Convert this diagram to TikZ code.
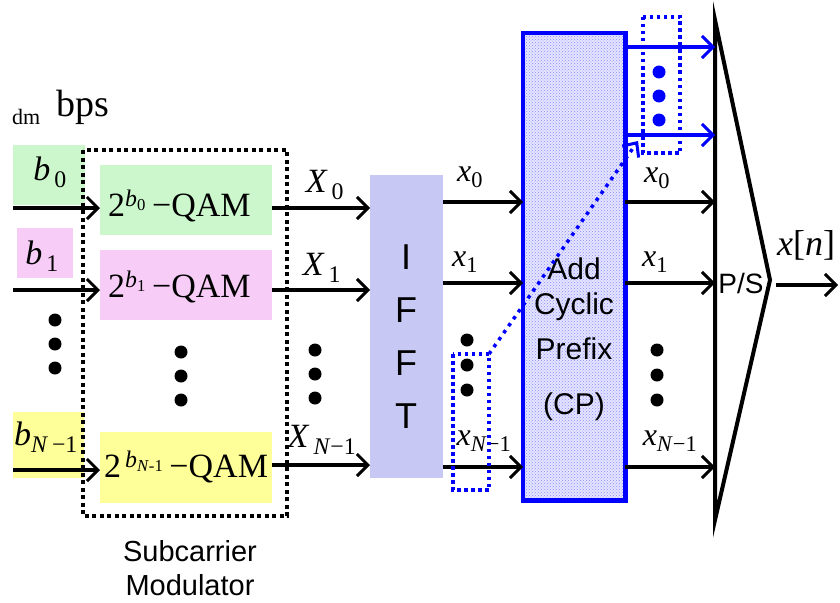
\documentclass[tikz,border=0pt]{standalone}
\usepackage{fontspec}
\setmainfont{Liberation Serif}
\setsansfont{Liberation Sans}
\usetikzlibrary{arrows.meta,patterns}
\definecolor{bgreen}{HTML}{CCF7CC}
\definecolor{bpink}{HTML}{F7CCF7}
\definecolor{byellow}{HTML}{FFFF99}
\definecolor{blav}{HTML}{C8C8F5}
\newcommand\lbl[2]{\textit{#1}\textsubscript{#2}}
\begin{document}
\begin{tikzpicture}[x=1pt,y=-1pt,
  arr/.style={line width=3.5pt,-{Straight Barb[length=11pt,width=22pt,line width=3pt]}},
  barr/.style={arr,blue},
  cbox/.style={draw=none,inner sep=0pt,anchor=north west},
  lab/.style={inner sep=0pt,font=\fontsize{34}{34}\selectfont},
  slab/.style={inner sep=0pt,font=\fontsize{32}{32}\selectfont},
  qam/.style={inner sep=0pt,font=\fontsize{34}{34}\selectfont},
  sans/.style={inner sep=0pt,font=\sffamily\fontsize{30}{30}\selectfont},
  dot/.style={circle,fill=black,inner sep=0pt,minimum size=13pt},
  bdot/.style={circle,fill=blue,inner sep=0pt,minimum size=13pt},
  bdotted/.style={draw=blue,line width=3.5pt,dash pattern=on 3.5pt off 3.5pt},
  kdotted/.style={draw=black,line width=4pt,dash pattern=on 4pt off 3.5pt}]
\useasboundingbox (0,0) rectangle (840,602);

% header
\node[inner sep=0pt,anchor=base west,font=\fontsize{22}{22}\selectfont] (dm) at (12,124) {dm};
\node[inner sep=0pt,anchor=base west,font=\fontsize{38}{38}\selectfont] (bps) at (56,116) {bps};

% input boxes
\fill[bgreen] (13,145) rectangle (85,205);
\fill[bpink] (17,228) rectangle (73,278);
\fill[byellow] (13,412) rectangle (84,478);
\node[lab] (b0) at (50,172) {\lbl{b}{\,0}};
\node[lab] (b1) at (42,256) {\lbl{b}{\,1}};
\node[lab] (bN) at (46,437) {\textit{b}\textsubscript{\textit{N}\,−1}};

% QAM boxes
\node[cbox,fill=bgreen,minimum width=172pt,minimum height=70pt] (q0) at (100,165) {};
\node[cbox,fill=bpink,minimum width=172pt,minimum height=70pt] (q1) at (100,250) {};
\node[cbox,fill=byellow,minimum width=172pt,minimum height=71pt] (qN) at (100,432) {};
\node[qam,anchor=west] (q0t) at (108,206) {2\textsuperscript{\textit{b}\textsubscript{0}}\,−QAM};
\node[qam,anchor=west] (q1t) at (108,287) {2\textsuperscript{\textit{b}\textsubscript{1}}\,−QAM};
\node[qam,anchor=west] (qNt) at (104,467) {2\textsuperscript{\,\textit{b}\textsubscript{\textit{N}-1}}\,−QAM};

\coordinate (i0) at (13,208);
\coordinate (i1) at (13,290);
\coordinate (iN) at (13,470);
\draw[arr] (i0) -- (q0.west |- i0);
\draw[arr] (i1) -- (q1.west |- i1);
\draw[arr] (iN) -- (qN.west |- iN);

% dots
\node[dot] (d1a) at (55,320) {}; \node[dot] (d1b) at (55,344) {}; \node[dot] (d1c) at (55,368) {};
\node[dot] (d2a) at (181,352) {}; \node[dot] (d2b) at (181,376) {}; \node[dot] (d2c) at (181,400) {};
\node[dot] (d3a) at (315,350) {}; \node[dot] (d3b) at (315,374) {}; \node[dot] (d3c) at (315,398) {};

% IFFT
\node[cbox,fill=blav,minimum width=73pt,minimum height=303pt] (ifft) at (370,175) {};
\node[sans,font=\sffamily\fontsize{36}{53}\selectfont,align=center] (ifftt) at (406,337) {I\\F\\F\\T};

\draw[arr] (q0.east |- 0,208) -- (ifft.west |- 0,208);
\draw[arr] (q1.east |- 0,290) -- (ifft.west |- 0,290);
\draw[arr] (qN.east |- 0,465) -- (ifft.west |- 0,465);
\node[lab] (X0) at (325,185) {\lbl{X}{\,0}};
\node[lab] (X1) at (322,268) {\lbl{X}{\,1}};
\node[lab] (XN) at (322,440) {\textit{X}\textsubscript{\,\textit{N}−1}};

% dotted subcarrier box
\draw[kdotted] (83,150) rectangle (287,516);
\node[sans,align=center,font=\sffamily\fontsize{29}{34}\selectfont] (sub) at (190,568) {Subcarrier\\Modulator};

% CP
\node[cbox,fill=blue!10,minimum width=102pt,minimum height=467pt] (cp) at (523,33) {};
\fill[pattern=crosshatch dots,pattern color=blue!45] (cp.north west) rectangle (cp.south east);
\draw[blue,line width=4.5pt] (cp.north west) rectangle (cp.south east);
\node[sans] (cpa) at (574,269) {Add};
\node[sans] (cpb) at (574,307) {Cyclic};
\node[sans] (cpc) at (574,349) {Prefix};
\node[sans] (cpd) at (574,407) {(CP)};

\draw[arr] (ifft.east |- 0,202) -- (cp.west |- 0,202);
\draw[arr] (ifft.east |- 0,283) -- (cp.west |- 0,283);
\draw[arr] (ifft.east |- 0,467) -- (cp.west |- 0,467);
\node[slab] (x0a) at (470,177) {\lbl{x}{0}};
\node[slab] (x1a) at (465,262) {\lbl{x}{1}};
\node[slab] (xNa) at (484,441) {\textit{x}\textsubscript{\textit{N}−1}};
\node[dot] (d4a) at (467,340) {}; \node[dot] (d4b) at (467,365) {}; \node[dot] (d4c) at (467,390) {};

% blue dotted selections
\draw[bdotted] (453,354) rectangle (489,490);
\coordinate (sel1) at (489,354);
\coordinate (sel2) at (638,141);
\draw[blue,line width=3.5pt,dash pattern=on 3.5pt off 5pt,-{Straight Barb[length=11pt,width=20pt,line width=3pt]}] (sel1) -- (sel2);

% P/S
\coordinate (ps1) at (715,20);
\coordinate (ps2) at (770,280);
\coordinate (ps3) at (715,520);
\draw[line width=4pt,line join=miter] (ps1) -- (ps2) -- (ps3) -- cycle;
\node[sans,font=\sffamily\fontsize{28}{28}\selectfont] (ps) at (741,283) {P/S};

\draw[barr] (cp.east |- 0,47) -- (ps1 |- 0,47);
\draw[barr] (cp.east |- 0,135) -- (ps1 |- 0,135);
\draw[bdotted] (643,17) rectangle (680,153);
\node[bdot] (b5a) at (659,72) {}; \node[bdot] (b5b) at (659,96) {}; \node[bdot] (b5c) at (659,120) {};

\draw[arr] (cp.east |- 0,202) -- (ps1 |- 0,202);
\draw[arr] (cp.east |- 0,283) -- (ps1 |- 0,283);
\draw[arr] (cp.east |- 0,467) -- (ps1 |- 0,467);
\node[slab] (x0b) at (657,178) {\lbl{x}{0}};
\node[slab] (x1b) at (655,262) {\lbl{x}{1}};
\node[slab] (xNb) at (670,441) {\textit{x}\textsubscript{\textit{N}−1}};
\node[dot] (d6a) at (657,350) {}; \node[dot] (d6b) at (657,375) {}; \node[dot] (d6c) at (657,400) {};

% output
\coordinate (out) at (838,285);
\draw[arr] (ps2 |- 0,285) ++(6,0) coordinate (outs) -- (out);
\node[lab,font=\fontsize{36}{36}\selectfont] (xn) at (806,245) {\textit{x}[\textit{n}]};
\end{tikzpicture}
\end{document}
